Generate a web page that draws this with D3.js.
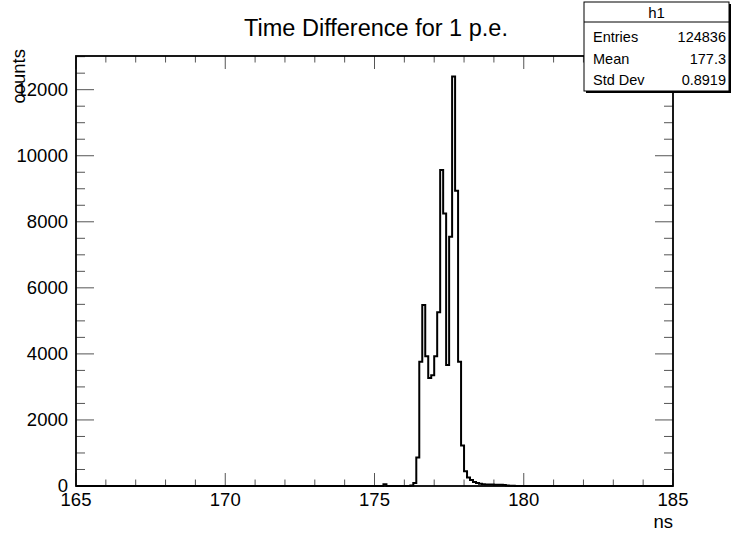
<!DOCTYPE html>
<html><head><meta charset="utf-8">
<script src="https://cdn.jsdelivr.net/npm/d3@7"></script>
<style>
body{margin:0;background:#fff}
svg{display:block}
text{font-family:"Liberation Sans",Arial,Helvetica,sans-serif;fill:#000}
</style>
</head><body><div id="chart"></div>
<script>
// ---- data ----
const chartTitle = "Time Difference for 1 p.e.";
const xTitle = "ns";
const yTitle = "counts";
const xDomain = [165, 185];
const xMajorTicks = [165, 170, 175, 180, 185];
const yMajorTicks = [0, 2000, 4000, 6000, 8000, 10000, 12000];
const binWidth = 0.1;
const binLow = [175.0,175.1,175.2,175.3,175.4,175.5,175.6,175.7,175.8,175.9,
                176.0,176.1,176.2,176.3,176.4,176.5,176.6,176.7,176.8,176.9,
                177.0,177.1,177.2,177.3,177.4,177.5,177.6,177.7,177.8,177.9,
                178.0,178.1,178.2,178.3,178.4,178.5,178.6,178.7,178.8,178.9,
                179.0,179.1,179.2,179.3,179.4,179.5,179.6,179.7,179.8,179.9];
const binCount = [0,0,0,50,0,0,0,0,0,0,
                  0,0,15,90,860,3760,5480,3930,3270,3350,
                  3930,5260,9570,8250,3660,7550,12400,8940,3760,1230,
                  450,260,180,120,90,70,55,48,45,42,
                  40,38,35,30,12,8,5,3,2,0];
const statsName = "h1";
const statsLabels = ["Entries", "Mean", "Std Dev"];
const statsValues = ["124836", "177.3", "0.8919"];

// ---- layout ----
const W = 731, H = 533;
const m = {left: 76, right: 58, top: 56, bottom: 47};
const fw = W - m.left - m.right, fh = H - m.top - m.bottom;

const svg = d3.select("#chart").append("svg").attr("width", W).attr("height", H);

const x = d3.scaleLinear().domain(xDomain).range([m.left, m.left + fw]);
const yMax = d3.max(binCount) * 1.05;
const y = d3.scaleLinear().domain([0, yMax]).range([m.top + fh, m.top]);

// ticks
const tickCol = "#555";
const xMinor = d3.range(xDomain[0], xDomain[1] + 0.001, 1);
const yMinor = d3.range(0, yMax, 500);
const g = svg.append("g");
xMinor.forEach(v => {
  const major = xMajorTicks.includes(v);
  const L = major ? 13 : 6.5;
  g.append("line").attr("x1", x(v)).attr("x2", x(v)).attr("y1", y(0)).attr("y2", y(0) - L)
    .attr("stroke", tickCol).attr("stroke-width", 1);
  g.append("line").attr("x1", x(v)).attr("x2", x(v)).attr("y1", m.top).attr("y2", m.top + L)
    .attr("stroke", tickCol).attr("stroke-width", 1);
});
yMinor.forEach(v => {
  const major = yMajorTicks.includes(v);
  const L = major ? 18 : 9;
  g.append("line").attr("x1", m.left).attr("x2", m.left + L).attr("y1", y(v)).attr("y2", y(v))
    .attr("stroke", tickCol).attr("stroke-width", 1);
  g.append("line").attr("x1", m.left + fw).attr("x2", m.left + fw - L).attr("y1", y(v)).attr("y2", y(v))
    .attr("stroke", tickCol).attr("stroke-width", 1);
});

// histogram
const pts = [[xDomain[0], 0]];
binLow.forEach((b, i) => pts.push([b, binCount[i]]));
pts.push([binLow[binLow.length - 1] + binWidth, 0]);
pts.push([xDomain[1], 0]);
const line = d3.line().x(d => x(d[0])).y(d => y(d[1])).curve(d3.curveStepAfter);
svg.append("path").attr("d", line(pts)).attr("fill", "none")
  .attr("stroke", "#000").attr("stroke-width", 2).attr("stroke-linejoin", "miter");

// frame
svg.append("rect").attr("x", m.left).attr("y", m.top).attr("width", fw).attr("height", fh)
  .attr("fill", "none").attr("stroke", "#000").attr("stroke-width", 1.8);

// axis labels
const fs = 18.5;
xMajorTicks.forEach(v => {
  svg.append("text").attr("x", x(v)).attr("y", y(0) + 20).attr("text-anchor", "middle")
    .attr("font-size", fs).text(v);
});
yMajorTicks.forEach(v => {
  svg.append("text").attr("x", m.left - 8).attr("y", y(v) + 6).attr("text-anchor", "end")
    .attr("font-size", fs).text(v);
});
svg.append("text").attr("x", m.left + fw).attr("y", H - 5).attr("text-anchor", "end")
  .attr("font-size", fs).text(xTitle);
svg.append("text").attr("transform", `translate(25,${m.top - 7}) rotate(-90)`)
  .attr("text-anchor", "end").attr("font-size", fs).text(yTitle);

// title
svg.append("text").attr("x", 376).attr("y", 36).attr("text-anchor", "middle")
  .attr("font-size", 23.5).text(chartTitle);

// stats box
const bx = 584, by = 2, bw = 145, bh = 89;
svg.append("rect").attr("x", bx + 2).attr("y", by + 2).attr("width", bw).attr("height", bh).attr("fill", "#000");
svg.append("rect").attr("x", bx).attr("y", by).attr("width", bw).attr("height", bh)
  .attr("fill", "#fff").attr("stroke", "#000").attr("stroke-width", 1);
svg.append("line").attr("x1", bx).attr("x2", bx + bw).attr("y1", by + 20).attr("y2", by + 20)
  .attr("stroke", "#000").attr("stroke-width", 1);
svg.append("text").attr("x", bx + bw / 2).attr("y", by + 16).attr("text-anchor", "middle")
  .attr("font-size", 15).text(statsName);
statsLabels.forEach((s, i) => {
  const yy = by + 40 + i * 21.5;
  svg.append("text").attr("x", bx + 9).attr("y", yy).attr("font-size", 14.5).text(s);
  svg.append("text").attr("x", bx + bw - 3).attr("y", yy).attr("text-anchor", "end")
    .attr("font-size", 14.5).text(statsValues[i]);
});
</script>
</body></html>
